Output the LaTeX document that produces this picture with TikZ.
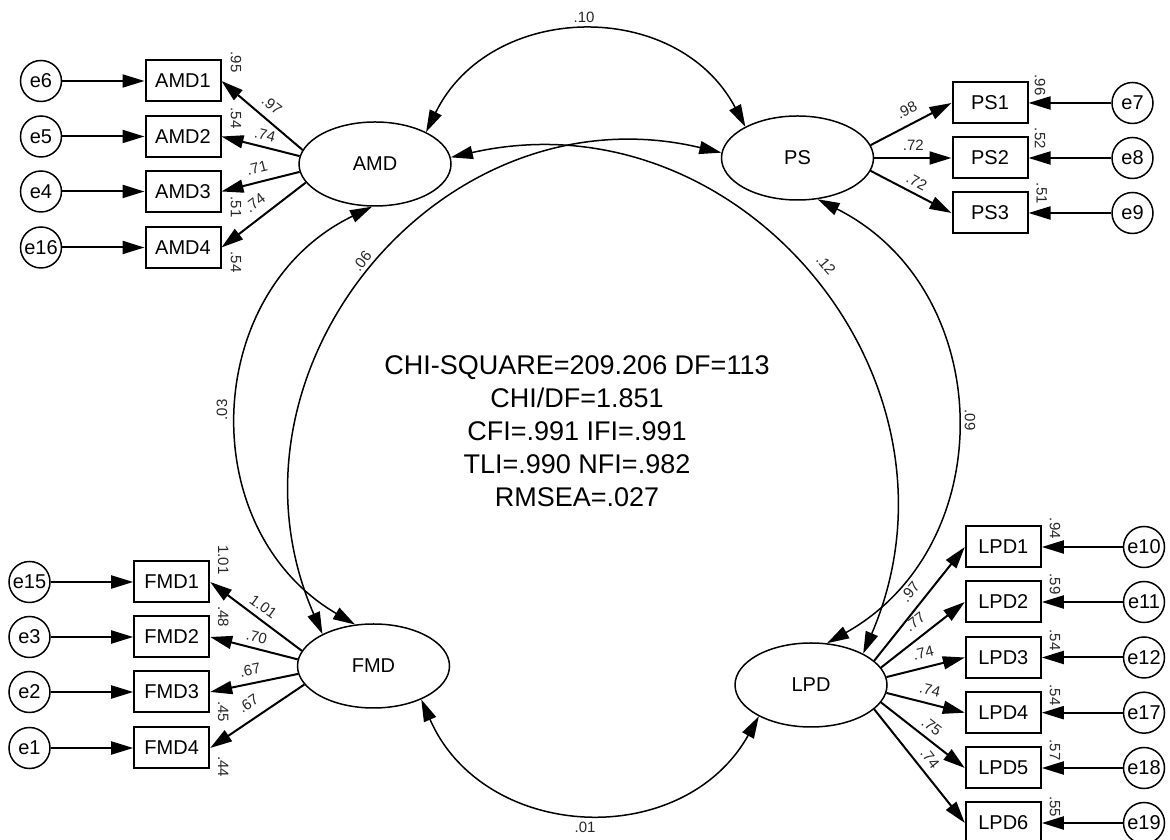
\documentclass[tikz,border=0pt]{standalone}
\usepackage{fontspec}
\setmainfont{Liberation Sans}
\usetikzlibrary{shapes.geometric,arrows.meta}
\begin{document}
\begin{tikzpicture}[x=1pt,y=1pt,
  obs/.style={draw,line width=2pt,rectangle,minimum width=75pt,minimum height=41pt,inner sep=0pt,font=\fontsize{20}{24}\selectfont},
  lat/.style={draw,line width=1.5pt,ellipse,minimum width=152pt,minimum height=84pt,inner sep=0pt,font=\fontsize{20}{24}\selectfont},
  err/.style={draw,line width=1.5pt,circle,minimum size=41pt,inner sep=0pt,font=\fontsize{20}{24}\selectfont},
  arr/.style={line width=2pt,-{Triangle[length=22pt,width=13pt]}},
  cov/.style={line width=1.5pt,{Triangle[length=22pt,width=13pt]}-{Triangle[length=22pt,width=13pt]}},
  lab/.style={font=\fontsize{15}{18}\selectfont,inner sep=0pt,text=black!85},
  stat/.style={font=\fontsize{27}{33}\selectfont,align=center,inner sep=0pt}
]
\useasboundingbox (0,0) rectangle (1170,840);

% latent variables
\node[lat] (AMD) at (375,676) {AMD};
\node[lat] (PS) at (797.5,682) {PS};
\node[lat] (FMD) at (373.5,174) {FMD};
\node[lat] (LPD) at (811,155) {LPD};

% AMD indicators
\node[obs] (AMD1) at (183,759) {AMD1};
\node[obs] (AMD2) at (183,703.5) {AMD2};
\node[obs] (AMD3) at (183,648.5) {AMD3};
\node[obs] (AMD4) at (183,592.5) {AMD4};
\node[err] (e6) at (41,759) {e6};
\node[err] (e5) at (41,703.5) {e5};
\node[err] (e4) at (41,648.5) {e4};
\node[err] (e16) at (41,592.5) {e16};

% PS indicators
\node[obs] (PS1) at (990,737) {PS1};
\node[obs] (PS2) at (990,682) {PS2};
\node[obs] (PS3) at (990,627) {PS3};
\node[err] (e7) at (1132.5,737) {e7};
\node[err] (e8) at (1132.5,682) {e8};
\node[err] (e9) at (1132.5,627) {e9};

% FMD indicators
\node[obs] (FMD1) at (171.7,258) {FMD1};
\node[obs] (FMD2) at (171.7,203) {FMD2};
\node[obs] (FMD3) at (171.7,148) {FMD3};
\node[obs] (FMD4) at (171.7,92) {FMD4};
\node[err] (e15) at (29.5,258) {e15};
\node[err] (e3) at (29.5,203) {e3};
\node[err] (e2) at (29.5,148) {e2};
\node[err] (e1) at (29.5,92) {e1};

% LPD indicators
\node[obs] (LPD1) at (1003.3,293) {LPD1};
\node[obs] (LPD2) at (1003.3,238) {LPD2};
\node[obs] (LPD3) at (1003.3,182.5) {LPD3};
\node[obs] (LPD4) at (1003.3,127.3) {LPD4};
\node[obs] (LPD5) at (1003.3,72) {LPD5};
\node[obs] (LPD6) at (1003.3,17) {LPD6};
\node[err] (e10) at (1144,293) {e10};
\node[err] (e11) at (1144,238) {e11};
\node[err] (e12) at (1144,182.5) {e12};
\node[err] (e17) at (1144,127.3) {e17};
\node[err] (e18) at (1144,72) {e18};
\node[err] (e19) at (1144,17) {e19};

% error arrows
\foreach \e/\b in {e6/AMD1,e5/AMD2,e4/AMD3,e16/AMD4,e15/FMD1,e3/FMD2,e2/FMD3,e1/FMD4}
  \draw[arr] (\e.east) -- (\b.west);
\foreach \e/\b in {e7/PS1,e8/PS2,e9/PS3,e10/LPD1,e11/LPD2,e12/LPD3,e17/LPD4,e18/LPD5,e19/LPD6}
  \draw[arr] (\e.west) -- (\b.east);

% loadings
\draw[arr] (AMD.169) -- (AMD1.east);
\draw[arr] (AMD.174) -- (AMD2.east);
\draw[arr] (AMD.186) -- (AMD3.east);
\draw[arr] (AMD.195) -- (AMD4.east);
\draw[arr] (FMD.168) -- (FMD1.east);
\draw[arr] (FMD.175) -- (FMD2.east);
\draw[arr] (FMD.186) -- (FMD3.east);
\draw[arr] (FMD.195) -- (FMD4.east);
\draw[arr] (PS.10) -- (PS1.west);
\draw[arr] (PS.0) -- (PS2.west);
\draw[arr] (PS.-10) -- (PS3.west);
\draw[arr] (LPD.21) -- (LPD1.west);
\draw[arr] (LPD.14) -- (LPD2.west);
\draw[arr] (LPD.6) -- (LPD3.west);
\draw[arr] (LPD.-6) -- (LPD4.west);
\draw[arr] (LPD.-14) -- (LPD5.west);
\draw[arr] (LPD.-21) -- (LPD6.west);

% covariances
\draw[cov] (AMD.32) .. controls +(63.9:146) and +(117.9:146) .. (PS.149);
\draw[cov] (AMD.5) .. controls +(12.7:297) and +(66.8:297) .. (LPD.31);
\draw[cov] (PS.176) .. controls +(166.6:288) and +(113.5:288) .. (FMD.148);
\draw[cov] (AMD.266) .. controls +(205.9:189) and +(149.6:189) .. (FMD.114);
\draw[cov] (PS.-64.5) .. controls +(-26.7:201) and +(29.3:201) .. (LPD.69);
\draw[cov] (FMD.-35) .. controls +(293.6:155.5) and +(240.7:155.5) .. (LPD.211);

% covariance labels
\node[lab] (c10) at (584,823) {.10};
\node[lab,rotate=-50] (c12) at (826,575) {.12};
\node[lab,rotate=52] (c06) at (362,579) {.06};
\node[lab,rotate=90] (c03) at (222,430) {.03};
\node[lab,rotate=-90] (c09) at (970,420) {.09};
\node[lab] (c01) at (585,13) {.01};

% squared multiple correlations
\node[lab,rotate=-90] (r1) at (236,778) {.95};
\node[lab,rotate=-90] (r2) at (236,722) {.54};
\node[lab,rotate=-90] (r3) at (236,633) {.51};
\node[lab,rotate=-90] (r4) at (236,578) {.54};
\node[lab,rotate=-90] (r5) at (223.3,280) {1.01};
\node[lab,rotate=-90] (r6) at (223.3,223.3) {.48};
\node[lab,rotate=-90] (r7) at (223.3,128.3) {.45};
\node[lab,rotate=-90] (r8) at (223.3,73.3) {.44};
\node[lab,rotate=-90] (r9) at (1040,755) {.96};
\node[lab,rotate=-90] (r10) at (1040,701.7) {.52};
\node[lab,rotate=-90] (r11) at (1041.7,646.7) {.51};
\node[lab,rotate=-90] (r12) at (1055,311.7) {.94};
\node[lab,rotate=-90] (r13) at (1055,256) {.59};
\node[lab,rotate=-90] (r14) at (1055,200) {.54};
\node[lab,rotate=-90] (r15) at (1055,145) {.54};
\node[lab,rotate=-90] (r16) at (1055,90) {.57};
\node[lab,rotate=-90] (r17) at (1055,33.3) {.55};

% loading labels
\node[lab,rotate=-38] (l1) at (272,735) {.97};
\node[lab,rotate=-14] (l2) at (265,705) {.74};
\node[lab,rotate=14] (l3) at (257,672) {.71};
\node[lab,rotate=37] (l4) at (255,637) {.74};
\node[lab,rotate=-36] (l5) at (263.3,233.3) {1.01};
\node[lab,rotate=-14] (l6) at (256.7,203.3) {.70};
\node[lab,rotate=11] (l7) at (250,170) {.67};
\node[lab,rotate=34] (l8) at (248.3,136.7) {.67};
\node[lab,rotate=27] (l9) at (906.7,730) {.98};
\node[lab] (l10) at (913.3,695) {.72};
\node[lab,rotate=-28] (l11) at (916.7,658.3) {.72};
\node[lab,rotate=51] (l12) at (910,248.3) {.97};
\node[lab,rotate=38] (l13) at (915,218.3) {.77};
\node[lab,rotate=14] (l14) at (923.3,186.7) {.74};
\node[lab,rotate=-14] (l15) at (930,150) {.74};
\node[lab,rotate=-38] (l16) at (931.7,113.3) {.75};
\node[lab,rotate=-52] (l17) at (930,81.7) {.74};

% fit statistics
\node[stat] (fit) at (577,409) {CHI-SQUARE=209.206 DF=113\\CHI/DF=1.851\\CFI=.991 IFI=.991\\TLI=.990 NFI=.982\\RMSEA=.027};
\end{tikzpicture}
\end{document}
